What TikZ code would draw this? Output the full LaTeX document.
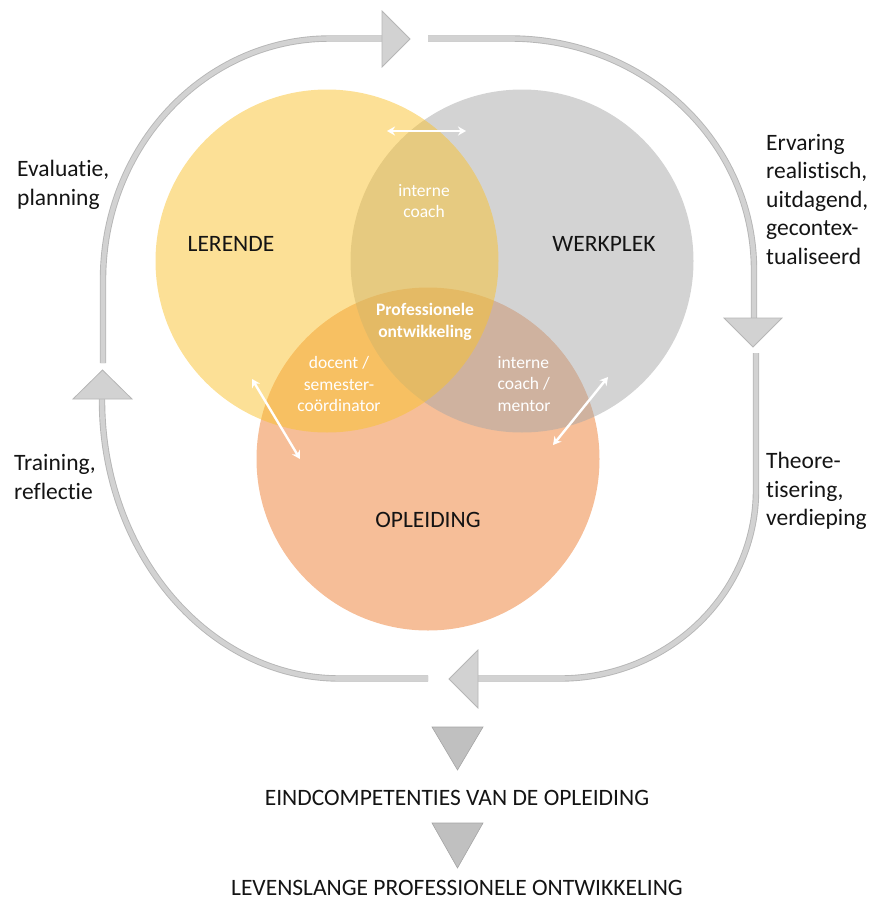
\documentclass[tikz,border=0pt]{standalone}
\usepackage{fontspec}
\setmainfont{Carlito}[Ligatures={NoCommon}]
\usetikzlibrary{arrows.meta}
\definecolor{cyel}{RGB}{250,194,45}
\definecolor{cgray}{RGB}{168,168,168}
\definecolor{corg}{RGB}{237,125,49}
\definecolor{bandfill}{RGB}{210,210,210}
\definecolor{bandedge}{RGB}{182,182,182}
\definecolor{tri}{RGB}{192,192,192}
\definecolor{txt}{RGB}{20,20,20}
\tikzset{
  venn/.style={circle, minimum size=343pt, inner sep=0pt, fill opacity=0.5, draw=none},
  band/.style={draw=bandedge, double=bandfill, line width=0.9pt, double distance=4.6pt},
  headtri/.style={fill=bandfill, draw=bandedge, line width=0.8pt, line join=miter},
  downtri/.style={fill=tri, draw=bandedge!90!black, line width=0.6pt},
  biglabel/.style={text=txt, font=\fontsize{23.5}{28}\selectfont, inner sep=0pt},
  sidelabel/.style={text=txt, font=\fontsize{23.5}{28.5}\selectfont, align=left, inner sep=0pt},
  whitelabel/.style={text=white, font=\fontsize{17.5}{21.5}\selectfont, align=center, inner sep=0pt},
  dblarrow/.style={white, line width=2.4pt, {Stealth[length=8pt,width=9pt]}-{Stealth[length=8pt,width=9pt]}}
}
\begin{document}
\begin{tikzpicture}[x=1pt,y=-1pt]
\useasboundingbox (0,0) rectangle (871,905);

% Venn circles (orange, gray, yellow on top)
\node[venn, fill=corg] (opl) at (428,459) {};
\node[venn, fill=cgray] (werk) at (522,261) {};
\node[venn, fill=cyel] (ler) at (327,261) {};

% circle labels
\node[biglabel] (tler) at (231,244) {LERENDE};
\node[biglabel] (twerk) at (604,244) {WERKPLEK};
\node[biglabel] (topl) at (428,520) {OPLEIDING};

% white labels
\node[whitelabel] (tcoach) at (424,201) {interne\\coach};
\node[whitelabel, font=\bfseries\fontsize{17.5}{21.5}\selectfont] (tprof) at (425,322) {Professionele\\ontwikkeling};
\node[whitelabel] (tdoc) at (339,384) {docent /\\semester-\\coördinator};
\node[whitelabel, align=left] (tment) at (524,384) {interne\\coach /\\mentor};

% white double arrows
\coordinate (a1) at (387,131);
\coordinate (a2) at (466,131);
\coordinate (b1) at (252,379);
\coordinate (b2) at (300,459);
\coordinate (c1) at (608,377);
\coordinate (c2) at (553,445);
\draw[dblarrow] (a1) -- (a2);
\draw[dblarrow] (b1) -- (b2);
\draw[dblarrow] (c1) -- (c2);

% cycle band segments
\coordinate (tlS) at (103,363);
\coordinate (tlE) at (382,38.5);
\draw[band] (tlS) -- (103,280) .. controls (103,146.3) and (204.6,38.5) .. (330,38.5) -- (tlE);
\coordinate (trS) at (428,38.5);
\coordinate (trE) at (754,318);
\draw[band] (trS) -- (510,38.5) .. controls (644.8,38.5) and (754,141.9) .. (754,270) -- (trE);
\coordinate (brS) at (756,353);
\coordinate (brE) at (478,678.5);
\draw[band] (brS) -- (756,490) .. controls (756,593.8) and (668.2,678.5) .. (560,678.5) -- (brE);
\coordinate (blS) at (428,678.5);
\coordinate (blE) at (102,399);
\draw[band] (blS) -- (340,678.5) .. controls (208.6,678.5) and (102,553.5) .. (102,400) -- (blE);

% arrow heads
\draw[headtri] (382,11) -- (410,39) -- (382,67) -- cycle;
\draw[headtri] (724,318) -- (753,347) -- (782,318) -- cycle;
\draw[headtri] (478,650) -- (449,679) -- (478,708) -- cycle;
\draw[headtri] (73,399) -- (102.5,370) -- (132,399) -- cycle;

% side labels
\node[sidelabel, anchor=west] (tl) at (17,185) {Evaluatie,\\planning};
\node[sidelabel, anchor=west] (tr) at (766,199) {Ervaring\\realistisch,\\uitdagend,\\gecontex-\\tualiseerd};
\node[sidelabel, anchor=west] (br) at (766,491) {Theore-\\tisering,\\verdieping};
\node[sidelabel, anchor=west] (bl) at (14,477) {Training,\\reflectie};

% bottom flow
\draw[downtri] (432,727) -- (483,727) -- (457.5,770) -- cycle;
\node[biglabel] (eind) at (457,798) {EINDCOMPETENTIES VAN DE OPLEIDING};
\draw[downtri] (432,823) -- (483,823) -- (457.5,868) -- cycle;
\node[biglabel] (lev) at (457,888) {LEVENSLANGE PROFESSIONELE ONTWIKKELING};
\end{tikzpicture}
\end{document}
